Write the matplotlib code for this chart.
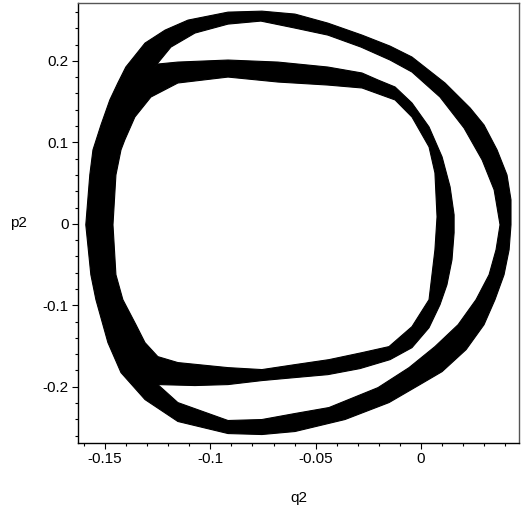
import numpy as np
import matplotlib
matplotlib.use("Agg")
import matplotlib.pyplot as plt
from matplotlib.path import Path
from matplotlib.patches import PathPatch

plt.rcParams['font.family'] = ['Liberation Sans', 'DejaVu Sans']

# ---- data (q2, p2) ----
# outer loop: outside boundary of the band
outer_a_q = [-0.1591, -0.1572, -0.1557, -0.1519, -0.1477, -0.1439, -0.1401, -0.1310, -0.1215, -0.1106,
             -0.0916, -0.0755, -0.0598, -0.0442, -0.0280, -0.0147, -0.0043, 0.0114, 0.0233, 0.0299,
             0.0361, 0.0408, 0.0427, 0.0427, 0.0418, 0.0394, 0.0351, 0.0299, 0.0214, 0.0100,
             -0.0005, -0.0152, -0.0361, -0.0598, -0.0755, -0.0916, -0.1154, -0.1310, -0.1424, -0.1486,
             -0.1543, -0.1567]
outer_a_p = [-0.0012, 0.0600, 0.0907, 0.1213, 0.1520, 0.1728, 0.1924, 0.2218, 0.2377, 0.2500,
             0.2598, 0.2610, 0.2574, 0.2463, 0.2316, 0.2181, 0.2047, 0.1728, 0.1422, 0.1213,
             0.0907, 0.0600, 0.0294, -0.0012, -0.0319, -0.0625, -0.0931, -0.1238, -0.1544, -0.1814,
             -0.1973, -0.2194, -0.2402, -0.2549, -0.2586, -0.2574, -0.2426, -0.2157, -0.1826, -0.1458,
             -0.0931, -0.0625]
# outer loop: inside boundary of the band
outer_b_q = [-0.1515, -0.1505, -0.1486, -0.1453, -0.1401, -0.1334, -0.1249, -0.1187, -0.1073, -0.0916,
             -0.0760, -0.0598, -0.0442, -0.0285, -0.0147, -0.0043, 0.0090, 0.0204, 0.0290, 0.0347,
             0.0375, 0.0356, 0.0323, 0.0261, 0.0176, 0.0066, -0.0057, -0.0204, -0.0437, -0.0598,
             -0.0755, -0.0916, -0.1154, -0.1249, -0.1334, -0.1401, -0.1458, -0.1486, -0.1505]
outer_b_p = [-0.0012, 0.0417, 0.0784, 0.1152, 0.1458, 0.1728, 0.1973, 0.2169, 0.2341, 0.2451,
             0.2488, 0.2402, 0.2316, 0.2169, 0.2010, 0.1863, 0.1556, 0.1176, 0.0784, 0.0417,
             -0.0012, -0.0319, -0.0625, -0.0931, -0.1238, -0.1507, -0.1765, -0.2010, -0.2255, -0.2328,
             -0.2402, -0.2414, -0.2194, -0.1973, -0.1789, -0.1483, -0.1115, -0.0809, -0.0441]
# inner loop: outside boundary of the band
inner_a_q = [-0.1543, -0.1534, -0.1500, -0.1443, -0.1382, -0.1310, -0.1249, -0.1154, -0.0916, -0.0679,
             -0.0442, -0.0280, -0.0204, -0.0123, -0.0043, 0.0038, 0.0100, 0.0138, 0.0157, 0.0157,
             0.0147, 0.0123, 0.0090, 0.0038, -0.0043, -0.0147, -0.0290, -0.0442, -0.0598, -0.0755,
             -0.0916, -0.1073, -0.1249, -0.1334, -0.1406, -0.1467, -0.1510, -0.1534]
inner_a_p = [-0.0012, 0.0539, 0.0907, 0.1275, 0.1581, 0.1826, 0.1961, 0.1985, 0.2010, 0.1985,
             0.1924, 0.1851, 0.1765, 0.1679, 0.1483, 0.1189, 0.0821, 0.0453, 0.0110, -0.0110,
             -0.0441, -0.0748, -0.0993, -0.1275, -0.1520, -0.1667, -0.1777, -0.1851, -0.1887, -0.1924,
             -0.1973, -0.1985, -0.1973, -0.1826, -0.1605, -0.1299, -0.0931, -0.0502]
# inner loop: inside boundary of the band (edge of the hole)
inner_b_q = [-0.1462, -0.1448, -0.1424, -0.1406, -0.1358, -0.1282, -0.1154, -0.0916, -0.0679, -0.0442,
             -0.0280, -0.0123, -0.0043, 0.0038, 0.0066, 0.0076, 0.0066, 0.0038, -0.0043, -0.0152,
             -0.0280, -0.0437, -0.0598, -0.0755, -0.0916, -0.1154, -0.1249, -0.1310, -0.1353, -0.1415,
             -0.1448]
inner_b_p = [-0.0012, 0.0600, 0.0907, 0.1029, 0.1311, 0.1556, 0.1728, 0.1801, 0.1740, 0.1703,
             0.1667, 0.1520, 0.1311, 0.0944, 0.0625, 0.0086, -0.0319, -0.0931, -0.1262, -0.1507,
             -0.1581, -0.1667, -0.1728, -0.1789, -0.1765, -0.1703, -0.1630, -0.1458, -0.1238, -0.0931,
             -0.0625]

x_ticks = [-0.15, -0.1, -0.05, 0]
x_tick_labels = ['-0.15', '-0.1', '-0.05', '0']
y_ticks = [-0.2, -0.1, 0, 0.1, 0.2]
y_tick_labels = ['-0.2', '-0.1', '0', '0.1', '0.2']


def ring_path(aq, ap, bq, bp):
    a = np.column_stack([aq + aq[:1], ap + ap[:1]])
    b = np.column_stack([bq + bq[:1], bp + bp[:1]])[::-1]
    verts = np.vstack([a, b])
    codes = ([Path.MOVETO] + [Path.LINETO] * (len(a) - 2) + [Path.CLOSEPOLY] +
             [Path.MOVETO] + [Path.LINETO] * (len(b) - 2) + [Path.CLOSEPOLY])
    return Path(verts, codes)


fig = plt.figure(figsize=(5.24, 5.07), dpi=100)
ax = fig.add_axes([78 / 524, 64 / 507, 441 / 524, 440 / 507])

for aq, ap, bq, bp in [(outer_a_q, outer_a_p, outer_b_q, outer_b_p),
                       (inner_a_q, inner_a_p, inner_b_q, inner_b_p)]:
    ax.add_patch(PathPatch(ring_path(aq, ap, bq, bp), facecolor='black',
                           edgecolor='black', linewidth=0.8, joinstyle='round'))

ax.set_xlim(-0.1628, 0.0465)
ax.set_ylim(-0.269, 0.271)

ax.set_xticks(x_ticks)
ax.set_xticklabels(x_tick_labels)
ax.set_yticks(y_ticks)
ax.set_yticklabels(y_tick_labels)
ax.set_xticks(np.arange(-0.16, 0.046, 0.01), minor=True)
ax.set_yticks(np.arange(-0.26, 0.27, 0.02), minor=True)
ax.tick_params(which='major', direction='out', length=4, width=0.8, labelsize=11,
               colors='black', pad=2.5)
ax.tick_params(which='minor', direction='out', length=2, width=0.8)
ax.tick_params(top=False, right=False, which='both')

for s in ['left', 'bottom']:
    ax.spines[s].set_color('black')
    ax.spines[s].set_linewidth(1.0)
for s in ['top', 'right']:
    ax.spines[s].set_color('#555555')
    ax.spines[s].set_linewidth(1.0)

ax.set_xlabel('q2', fontsize=11)
ax.set_ylabel('p2', fontsize=11, rotation=0, ha='center', va='center')
ax.xaxis.set_label_coords(0.5, -0.108)
ax.yaxis.set_label_coords(-0.134, 0.5)

fig.savefig('out.png', dpi=100, facecolor='white')
